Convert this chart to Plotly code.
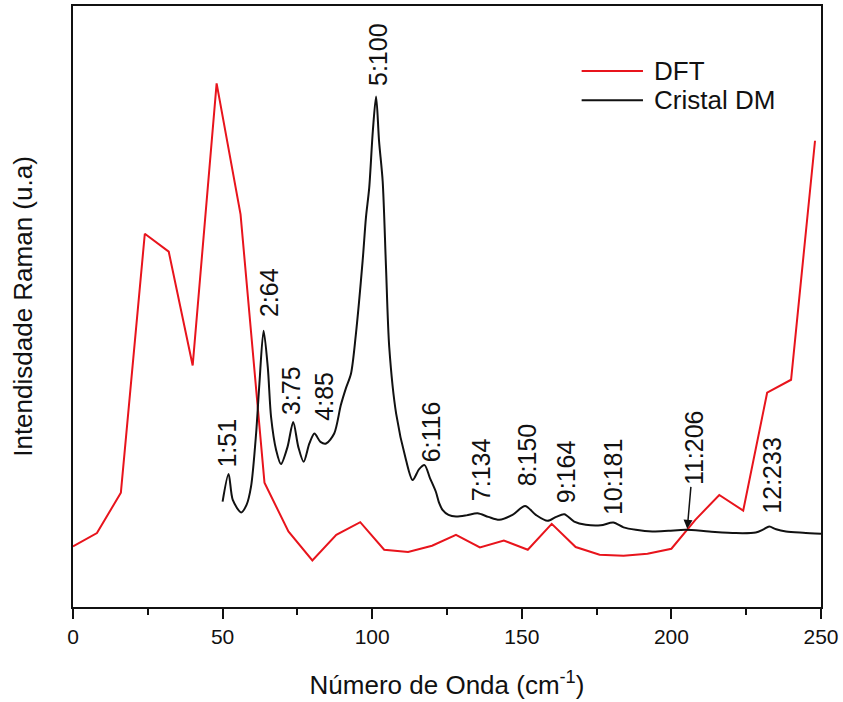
import plotly.graph_objects as go

# ---- DFT (red) ----
dft_x = [0, 8, 16, 24, 32, 40, 48, 56, 64, 72, 80, 88, 96, 104, 112, 120,
         128, 136, 144, 152, 160, 168, 176, 184, 192, 200, 208, 216, 224, 232, 240, 248]
dft_y = [60.8, 74.2, 114.8, 374.8, 356.8, 242.5, 525.8, 394.2, 124.8, 75.8, 46.8, 72.5,
         85.2, 57.5, 55.2, 61.5, 72.5, 59.8, 66.8, 57.5, 83.5, 60.2, 52.5, 51.5,
         53.5, 58.5, 87.5, 112.5, 96.8, 215.2, 228.2, 468.2]

# ---- Cristal DM (black) ----
dm_x = [50.0, 52.0, 53.4, 56.2, 58.0, 59.5, 61.2, 62.3, 63.7, 65.1, 66.2, 67.9, 69.5,
        71.7, 73.6, 75.3, 77.1, 79.0, 80.7, 82.7, 84.6, 87.3, 89.5, 91.2, 92.9, 94.5,
        96.8, 97.9, 99.0, 100.2, 101.3, 102.3, 103.5, 104.6, 105.7, 108.0, 111.3, 113.5,
        115.7, 117.5, 119.3, 121.3, 122.4, 123.5, 125.5, 128.0, 131.5, 135.2, 138.8,
        142.5, 146.9, 151.1, 154.7, 158.6, 161.5, 164.2, 167.5, 171.4, 176.4, 180.6,
        184.0, 188.1, 193.6, 199.0, 204.8, 212.6, 221.5, 228.2, 230.8, 232.7, 235.0,
        238.3, 244.0, 250.0]
dm_y = [105.8, 133.5, 107.5, 95.0, 102.5, 120.8, 174.2, 224.2, 277.5, 240.8, 190.8, 157.5,
        143.5, 160.8, 185.8, 160.8, 145.8, 164.2, 174.2, 165.8, 164.2, 174.2, 202.5, 219.5,
        234.2, 272.5, 347.5, 390.8, 420.8, 477.5, 512.5, 467.5, 427.5, 342.5, 260.8, 194.2,
        147.5, 127.5, 138.5, 142.5, 129.5, 115.5, 104.2, 97.5, 92.5, 90.8, 92.0, 94.2,
        90.5, 87.5, 92.5, 101.5, 92.5, 86.5, 90.5, 93.2, 85.8, 82.5, 82.0, 84.8, 80.0,
        77.5, 75.8, 76.5, 77.5, 75.8, 74.2, 74.8, 78.0, 80.8, 78.0, 75.8, 74.5, 73.5]

# ---- peak labels ----
peak_labels = ["1:51", "2:64", "3:75", "4:85", "5:100", "6:116", "7:134",
               "8:150", "9:164", "10:181", "12:233"]
label_x = [51.6, 65.6, 73.1, 84.0, 102.0, 119.7, 136.4, 151.8, 164.8, 180.5, 233.5]
label_y = [164.5, 315.5, 217.5, 211.5, 554.5, 175.5, 137.5, 152.5, 135.5, 130.5, 131.5]

# arrowed label (points at the crossing near 206 cm-1)
arrow_label = "11:206"
arrow_tip_x = 205.3
arrow_tip_y = 78.5

x_ticks = [0, 50, 100, 150, 200, 250]

RED = "#e8141c"
BLACK = "#111111"
FONT = "Liberation Sans, Arial, sans-serif"

fig = go.Figure()
fig.add_trace(go.Scatter(x=dft_x, y=dft_y, mode="lines", name="DFT",
                         line=dict(color=RED, width=2), showlegend=False))
fig.add_trace(go.Scatter(x=dm_x, y=dm_y, mode="lines", name="Cristal DM",
                         line=dict(color=BLACK, width=2, shape="spline", smoothing=0.8),
                         showlegend=False))

annotations = []
for t, lx, ly in zip(peak_labels, label_x, label_y):
    annotations.append(dict(x=lx, y=ly, xref="x", yref="y", text=t, textangle=-90,
                            showarrow=False, xanchor="center", yanchor="middle",
                            font=dict(family=FONT, size=25, color=BLACK)))
annotations.append(dict(x=arrow_tip_x, y=arrow_tip_y, xref="x", yref="y", text=arrow_label,
                        textangle=-90, showarrow=True, ax=7, ay=-81, arrowhead=2,
                        arrowsize=1.2, arrowwidth=1.5, arrowcolor=BLACK,
                        font=dict(family=FONT, size=25, color=BLACK)))

# legend
leg_items = [("DFT", RED, 0.892), ("Cristal DM", BLACK, 0.843)]
shapes = []
for name, col, yy in leg_items:
    shapes.append(dict(type="line", xref="paper", yref="paper", x0=0.680, x1=0.762,
                       y0=yy, y1=yy, line=dict(color=col, width=2)))
    annotations.append(dict(x=0.774, y=yy, xref="paper", yref="paper", text=name,
                            showarrow=False, xanchor="left", yanchor="middle",
                            font=dict(family=FONT, size=26, color=BLACK)))

fig.update_layout(
    width=843, height=702,
    margin=dict(l=73, r=21, t=4, b=95),
    paper_bgcolor="white", plot_bgcolor="white",
    font=dict(family=FONT, color=BLACK),
    annotations=annotations, shapes=shapes,
    showlegend=False,
)
fig.update_xaxes(
    range=[0, 250], tickvals=x_ticks, ticks="outside", ticklen=10, tickwidth=2,
    tickcolor=BLACK, showline=True, linewidth=2, linecolor=BLACK, mirror=True,
    showgrid=False, zeroline=False, tickfont=dict(size=21, family=FONT, color=BLACK),
    minor=dict(dtick=25, tick0=0, ticks="outside", ticklen=6, tickwidth=2, tickcolor=BLACK),
    title=dict(text="Número de Onda (cm<sup>-1</sup>)", font=dict(size=26, family=FONT, color=BLACK),
               standoff=29),
)
fig.update_yaxes(
    range=[0, 603.5], showticklabels=False, ticks="", showline=True, linewidth=2,
    linecolor=BLACK, mirror=True, showgrid=False, zeroline=False,
    title=dict(text="Intendisdade Raman (u.a)", font=dict(size=26, family=FONT, color=BLACK),
               standoff=31),
)

fig.write_html("out.html", config={"displayModeBar": False},
               post_script="document.body.style.margin='0';document.body.style.overflow='hidden';")
